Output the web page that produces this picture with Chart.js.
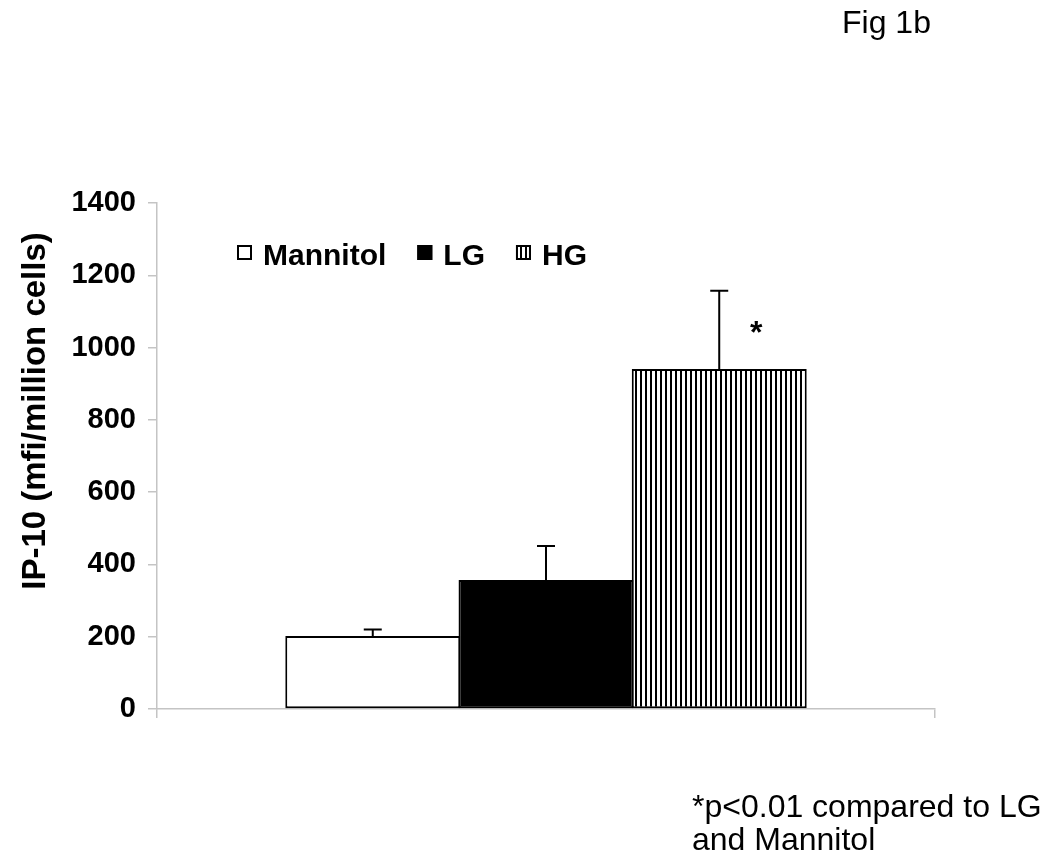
<!DOCTYPE html>
<html>
<head>
<meta charset="utf-8">
<title>Fig 1b</title>
<script src="https://cdn.jsdelivr.net/npm/chart.js@4.4.1/dist/chart.umd.min.js"></script>
<style>
  html, body { margin:0; padding:0; background:#fff; }
  #wrap { position:relative; width:1050px; height:857px; }
</style>
</head>
<body>
<div id="wrap"><canvas id="chart-ip10" width="1050" height="857"></canvas></div>
<script>
// ── data ────────────────────────────────────────────────────
const GROUPS   = ['Mannitol', 'LG', 'HG'];
const MEANS    = [202, 357, 941];
const ERRORS   = [18, 94, 216];          // upper error only
const SIG_MARK = ['', '', '*'];
const Y_TICKS  = [0, 200, 400, 600, 800, 1000, 1200, 1400];
const Y_TITLE  = 'IP-10 (mfi/million cells)';
const FIG_TAG  = 'Fig 1b';
const NOTE     = ['*p<0.01 compared to LG', 'and Mannitol'];

const FONT  = '"Liberation Sans", Arial, Helvetica, sans-serif';
const AXIS  = '#c4c4c4';
const BLACK = '#000';
const WHITE = '#fff';

const canvas = document.getElementById('chart-ip10');
const ctx0 = canvas.getContext('2d');

// vertical hatching for HG
function _stripes() {
  const c = document.createElement('canvas');
  c.width = 5; c.height = 5;
  const g = c.getContext('2d');
  g.fillStyle = WHITE; g.fillRect(0, 0, 5, 5);
  g.fillStyle = BLACK; g.fillRect(0, 0, 2, 5);
  return ctx0.createPattern(c, 'repeat');
}
const FILLS = [WHITE, BLACK, _stripes()];

const extras = {
  id: 'figExtras',
  afterDatasetsDraw(chart) {
    const { ctx, scales:{ y } } = chart;
    ctx.save();
    ctx.strokeStyle = BLACK; ctx.lineWidth = 2;
    GROUPS.forEach((g, i) => {
      const bar = chart.getDatasetMeta(i).data[0];
      if (!bar) return;
      const top = y.getPixelForValue(MEANS[i] + ERRORS[i]);
      ctx.beginPath();
      ctx.moveTo(bar.x, bar.y); ctx.lineTo(bar.x, top);
      ctx.moveTo(bar.x - 9, top); ctx.lineTo(bar.x + 9, top);
      ctx.stroke();
      if (SIG_MARK[i]) {
        ctx.fillStyle = BLACK;
        ctx.font = `bold 32px ${FONT}`;
        ctx.textAlign = 'center';
        ctx.fillText(SIG_MARK[i], bar.x + 37, top + 52);
      }
    });
    ctx.restore();
  },
  afterDraw(chart) {
    const { ctx, chartArea:a } = chart;
    ctx.save();
    // legend inside plot area
    ctx.font = `bold 30px ${FONT}`;
    ctx.textAlign = 'left';
    ctx.textBaseline = 'alphabetic';
    let x = a.left + 80;
    const by = a.top + 42;
    chart.data.datasets.forEach(ds => {
      ctx.fillStyle = ds.backgroundColor;
      ctx.fillRect(x, by, 15, 15);
      ctx.strokeStyle = BLACK; ctx.lineWidth = 2;
      ctx.strokeRect(x + 1, by + 1, 13, 13);
      ctx.fillStyle = BLACK;
      ctx.fillText(ds.label, x + 26, by + 20);
      x += 26 + ctx.measureText(ds.label).width + 31;
    });
    // y title
    ctx.save();
    ctx.translate(36, 411);
    ctx.rotate(-Math.PI / 2);
    ctx.font = `bold 33px ${FONT}`;
    ctx.textAlign = 'center';
    ctx.textBaseline = 'middle';
    ctx.fillText(Y_TITLE, 0, 0);
    ctx.restore();
    // figure tag + footnote
    ctx.font = `32px ${FONT}`;
    ctx.fillText(FIG_TAG, 842, 33);
    NOTE.forEach((t, i) => ctx.fillText(t, 692, 817 + i * 33));
    ctx.restore();
  }
};

new Chart(canvas, {
  type: 'bar',
  data: {
    labels: [''],
    datasets: GROUPS.map((g, i) => ({
      label: g, data: [MEANS[i]],
      backgroundColor: FILLS[i], borderColor: BLACK, borderWidth: 2, borderSkipped: false,
      barPercentage: 1.01, categoryPercentage: 0.668
    }))
  },
  options: {
    responsive: false, animation: false, devicePixelRatio: 1,
    layout: { padding: { left: 0, top: 203, right: 115, bottom: 139 } },
    plugins: { legend: { display: false }, tooltip: { enabled: false } },
    scales: {
      x: {
        ticks: { display: false },
        grid: { drawOnChartArea: false, tickLength: 9, color: AXIS, lineWidth: 1.5, offset: true },
        border: { color: AXIS, width: 1.5 }
      },
      y: {
        min: 0, max: 1400,
        afterBuildTicks: s => { s.ticks = Y_TICKS.map(v => ({ value: v })); },
        afterFit: s => { s.width = 157; },
        ticks: { color: BLACK, padding: 12, callback: v => String(v),
          font: { family: FONT, size: 29, weight: 'bold' } },
        grid: { drawOnChartArea: false, tickLength: 9, color: AXIS, lineWidth: 1.5 },
        border: { color: AXIS, width: 1.5 }
      }
    }
  },
  plugins: [extras]
});
</script>
</body>
</html>
